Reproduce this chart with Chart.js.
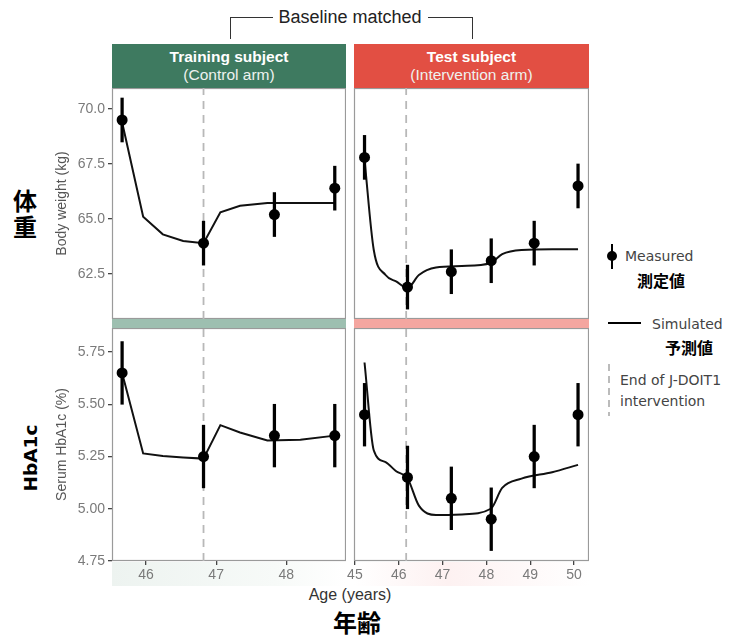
<!DOCTYPE html>
<html>
<head>
<meta charset="utf-8">
<script src="https://cdn.jsdelivr.net/npm/chart.js@4.4.1/dist/chart.umd.min.js"></script>
<style>
  body { margin: 0; background: #fff; }
  #fig { position: relative; width: 735px; height: 637px; overflow: hidden; font-family: 'Liberation Sans', Arial, sans-serif; }
  #fig canvas { position: absolute; }
  .abs { position: absolute; white-space: nowrap; }
  .strip { position: absolute; color: #fff; text-align: center; }
  .strip b { display: block; font-size: 15.5px; line-height: 18px; margin-top: 4px; }
  .strip span { display: block; font-size: 15.5px; line-height: 18px; color: #eef2ef; }
  .jp { font-family: 'Noto Sans CJK JP', sans-serif; font-weight: 700; color: #000; }
  .leg { font-family: 'DejaVu Sans', sans-serif; font-size: 14px; color: #444; }
</style>
</head>
<body>
<div id="fig">
  <!-- titles and strips -->
  <div class="abs" style="left:350px;top:17px;transform:translate(-50%,-50%);font-size:18px;color:#222">Baseline matched</div>
  <div class="abs" style="left:230px;top:17px;width:42px;height:21px;border-top:1.5px solid #333;border-left:1.5px solid #333"></div>
  <div class="abs" style="left:428px;top:17px;width:44px;height:21px;border-top:1.5px solid #333;border-right:1.5px solid #333"></div>

  <div class="strip" style="left:112px;top:44px;width:234px;height:45px;background:#3e7a60"><b>Training subject</b><span>(Control arm)</span></div>
  <div class="strip" style="left:354px;top:44px;width:235px;height:45px;background:#e24f43"><b>Test subject</b><span>(Intervention arm)</span></div>

  <div class="abs" style="left:112px;top:319px;width:234px;height:9px;background:#9dbfb0"></div>
  <div class="abs" style="left:354px;top:319px;width:235px;height:9px;background:#f4a6a0"></div>

  <div class="abs" style="left:112px;top:562px;width:234px;height:24px;background:linear-gradient(90deg,#edf3f0,#f7faf8 70%,#fff)"></div>
  <div class="abs" style="left:354px;top:562px;width:235px;height:24px;background:linear-gradient(90deg,#fff,#fdf1f1 40%,#fff)"></div>

  <canvas id="cTrainW" width="298" height="231" style="left:48px;top:88px"></canvas>
  <canvas id="cTestW" width="249" height="231" style="left:340px;top:88px"></canvas>
  <canvas id="cTrainH" width="298" height="258" style="left:48px;top:328px"></canvas>
  <canvas id="cTestH" width="249" height="258" style="left:340px;top:328px"></canvas>

  <div class="abs jp" style="left:25px;top:199px;transform:translate(-50%,-50%);font-size:24px">体</div>
  <div class="abs jp" style="left:25px;top:225px;transform:translate(-50%,-50%);font-size:24px">重</div>
  <div class="abs" style="left:30px;top:458px;transform:translate(-50%,-50%) rotate(-90deg);font-family:'DejaVu Sans',sans-serif;font-weight:700;font-size:18.5px;color:#000">HbA1c</div>

  <div class="abs" style="left:350px;top:595px;transform:translate(-50%,-50%);font-size:16px;color:#333">Age (years)</div>
  <div class="abs jp" style="left:357px;top:621px;transform:translate(-50%,-50%);font-size:24px">年齢</div>

  <!-- legend -->
  <div class="abs" style="left:611px;top:244px;width:2px;height:25px;background:#000"></div>
  <div class="abs" style="left:607px;top:251px;width:10px;height:10px;border-radius:50%;background:#000"></div>
  <div class="abs leg" style="left:625px;top:256px;transform:translateY(-50%)">Measured</div>
  <div class="abs jp" style="left:637px;top:280px;transform:translateY(-50%);font-size:16px">測定値</div>

  <div class="abs" style="left:608px;top:322px;width:33px;height:2px;background:#000"></div>
  <div class="abs leg" style="left:652px;top:324px;transform:translateY(-50%)">Simulated</div>
  <div class="abs jp" style="left:665px;top:347px;transform:translateY(-50%);font-size:16px">予測値</div>

  <div class="abs" style="left:608px;top:364px;width:2px;height:52px;background:repeating-linear-gradient(180deg,#bbb 0 7px,transparent 7px 12px)"></div>
  <div class="abs leg" style="left:620px;top:380px;transform:translateY(-50%)">End of J-DOIT1</div>
  <div class="abs leg" style="left:620px;top:401px;transform:translateY(-50%)">intervention</div>
</div>

<script>
// measured values (mean, error bar = +/- spread)
const measTrainAge = [45.66, 46.82, 47.83, 48.69];
const measTrainWeight = [69.5, 63.9, 65.2, 66.4];
const measTrainHba1c = [5.65, 5.25, 5.35, 5.35];

const measTestAge = [45.22, 46.2, 47.2, 48.11, 49.09, 50.09];
const measTestWeight = [67.8, 61.9, 62.6, 63.1, 63.9, 66.5];
const measTestHba1c = [5.45, 5.15, 5.05, 4.95, 5.25, 5.45];

const errWeight = 1.0;
const errHba1c = 0.15;

// simulated trajectories
const simTrainAge = [45.66, 45.96, 46.24, 46.53, 46.82, 47.06, 47.34, 47.73, 48.2, 48.69];
const simTrainWeight = [69.4, 65.1, 64.3, 64.0, 63.9, 65.3, 65.6, 65.72, 65.73, 65.73];
const simTrainHba1c = [5.65, 5.265, 5.252, 5.245, 5.24, 5.40, 5.365, 5.327, 5.33, 5.35];

const simTestAge = [45.22, 45.43, 45.7, 45.95, 46.2, 46.46, 46.85, 47.44, 48.1, 48.36, 48.8, 49.5, 50.09];
const simTestWeight = [67.7, 63.6, 62.45, 62.15, 61.86, 62.45, 62.79, 62.86, 63.0, 63.4, 63.59, 63.62, 63.62];
const simTestHba1c = [5.70, 5.28, 5.223, 5.178, 5.146, 5.015, 4.97, 4.973, 5.0, 5.10, 5.144, 5.175, 5.21];

// end of J-DOIT1 intervention
const endTrainAge = 46.82;
const endTestAge = 46.17;

// axis ticks
const ageTicksTrain = [46, 47, 48];
const ageTicksTest = [45, 46, 47, 48, 49, 50];
const weightTicks = [62.5, 65.0, 67.5, 70.0];
const hba1cTicks = [4.75, 5.00, 5.25, 5.50, 5.75];

const ageRangeTrain = [45.516, 48.85];
const ageRangeTest = [44.98, 50.34];
const weightRange = [60.45, 70.955];
const hba1cRange = [4.75, 5.865];

Chart.defaults.font.family = "'Liberation Sans', Arial, sans-serif";
Chart.defaults.animation = false;

const panelFrame = {
  id: 'panelFrame',
  beforeDatasetsDraw(chart) {
    const { ctx, chartArea: a } = chart;
    ctx.save();
    ctx.strokeStyle = '#9a9a9a';
    ctx.lineWidth = 1.2;
    ctx.strokeRect(a.left + 0.5, a.top + 0.5, a.right - a.left - 1, a.bottom - a.top - 1);
    ctx.restore();
  }
};

function makePanel(id, o) {
  const measured = o.measAge.map((x, i) => ({ x: x, y: o.measVal[i] }));
  const bars = o.measAge.map((x, i) => ({ x: x, y: [o.measVal[i] - o.err, o.measVal[i] + o.err] }));
  const sim = o.simAge.map((x, i) => ({ x: x, y: o.simVal[i] }));

  return new Chart(document.getElementById(id), {
    type: 'scatter',
    data: {
      datasets: [
        { type: 'scatter', data: measured, pointRadius: 5.5, pointHoverRadius: 5.5,
          backgroundColor: '#000', borderColor: '#000', borderWidth: 0 },
        { type: 'bar', data: bars, backgroundColor: '#000', barThickness: 2.6 },
        { type: 'line', data: sim, borderColor: '#111', borderWidth: 2, pointRadius: 0,
          tension: o.smooth ? 0.4 : 0, cubicInterpolationMode: o.smooth ? 'monotone' : 'default' },
        { type: 'line', data: [{ x: o.endAge, y: o.yRange[0] }, { x: o.endAge, y: o.yRange[1] }],
          borderColor: '#b8b8b8', borderWidth: 1.8, borderDash: [8, 6], pointRadius: 0 }
      ]
    },
    options: {
      responsive: false,
      layout: { padding: { left: o.padLeft, right: 0, top: 0, bottom: 0 }, autoPadding: false },
      plugins: { legend: { display: false }, tooltip: { enabled: false } },
      scales: {
        x: {
          type: 'linear',
          display: o.showX,
          offset: false,
          min: o.xRange[0], max: o.xRange[1],
          afterBuildTicks: (s) => { s.ticks = o.xTicks.map(v => ({ value: v })); },
          afterFit: (s) => {
            if (o.showX) s.height = 25;
            s.paddingLeft = 0; s.paddingRight = 0;
          },
          ticks: { color: '#7a7a7a', font: { size: 14 }, padding: 2, maxRotation: 0, callback: v => String(v) },
          grid: { display: true, offset: false, drawOnChartArea: false, drawTicks: true, tickLength: 4, color: '#444', lineWidth: 1.3 },
          border: { display: false }
        },
        y: {
          type: 'linear',
          display: o.showY,
          offset: false,
          min: o.yRange[0], max: o.yRange[1],
          afterBuildTicks: (s) => { s.ticks = o.yTicks.map(v => ({ value: v })); },
          afterFit: (s) => {
            if (o.showY) s.width = 64;
            s.paddingTop = 0; s.paddingBottom = 0;
          },
          ticks: { color: '#7a7a7a', font: { size: 14 }, padding: 3, callback: v => v.toFixed(o.digits) },
          grid: { display: true, drawOnChartArea: false, drawTicks: true, tickLength: 4, color: '#444', lineWidth: 1.3 },
          border: { display: false },
          title: { display: o.showY, text: o.yTitle, color: '#555', font: { size: 14 }, padding: { top: 6, bottom: 0 } }
        }
      }
    },
    plugins: [panelFrame]
  });
}

makePanel('cTrainW', {
  measAge: measTrainAge, measVal: measTrainWeight, err: errWeight,
  simAge: simTrainAge, simVal: simTrainWeight, endAge: endTrainAge,
  xRange: ageRangeTrain, xTicks: ageTicksTrain, yRange: weightRange, yTicks: weightTicks,
  digits: 1, yTitle: 'Body weight (kg)', showX: false, showY: true, smooth: false, padLeft: 0
});
makePanel('cTestW', {
  measAge: measTestAge, measVal: measTestWeight, err: errWeight,
  simAge: simTestAge, simVal: simTestWeight, endAge: endTestAge,
  xRange: ageRangeTest, xTicks: ageTicksTest, yRange: weightRange, yTicks: weightTicks,
  digits: 1, yTitle: '', showX: false, showY: false, smooth: true, padLeft: 14
});
makePanel('cTrainH', {
  measAge: measTrainAge, measVal: measTrainHba1c, err: errHba1c,
  simAge: simTrainAge, simVal: simTrainHba1c, endAge: endTrainAge,
  xRange: ageRangeTrain, xTicks: ageTicksTrain, yRange: hba1cRange, yTicks: hba1cTicks,
  digits: 2, yTitle: 'Serum HbA1c (%)', showX: true, showY: true, smooth: false, padLeft: 0
});
makePanel('cTestH', {
  measAge: measTestAge, measVal: measTestHba1c, err: errHba1c,
  simAge: simTestAge, simVal: simTestHba1c, endAge: endTestAge,
  xRange: ageRangeTest, xTicks: ageTicksTest, yRange: hba1cRange, yTicks: hba1cTicks,
  digits: 2, yTitle: '', showX: true, showY: false, smooth: true, padLeft: 14
});
</script>
</body>
</html>
